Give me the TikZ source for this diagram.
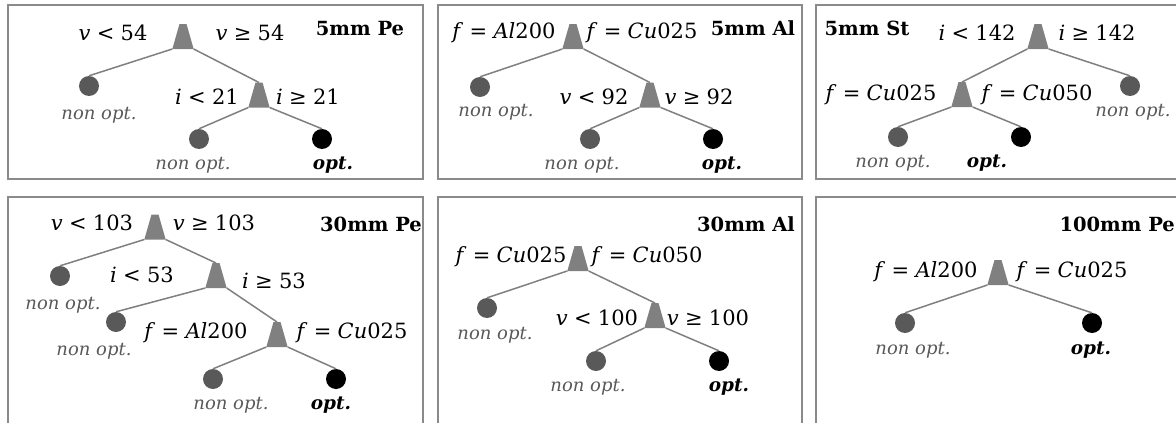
\documentclass[tikz,border=0pt]{standalone}
\usepackage{fontspec}
\setmainfont{DejaVu Serif}
\usetikzlibrary{shapes.geometric}
\definecolor{edgegray}{HTML}{808080}
\definecolor{leafgray}{HTML}{595959}
\definecolor{framegray}{HTML}{8A8A8A}
\newcommand\myrel[1]{\hspace{0.3em}#1\hspace{0.3em}}
\newcommand\vv{\textit{v}}
\newcommand\ii{\textit{i}}
\newcommand\ff{\textit{f}}
\tikzset{
 split/.style={trapezium, trapezium left angle=74, trapezium right angle=74, inner xsep=3.5pt, inner ysep=12.5pt, outer sep=0pt, fill=edgegray, draw=none},
 bad/.style={circle, fill=leafgray, minimum size=20pt, inner sep=0pt},
 good/.style={circle, fill=black, minimum size=20pt, inner sep=0pt},
 cond/.style={font=\fontsize{21}{25}\selectfont, inner sep=0pt},
 nonopt/.style={font=\fontsize{18}{22}\selectfont\itshape, text=leafgray, inner sep=0pt},
 optlbl/.style={font=\fontsize{18.5}{22}\selectfont\bfseries\itshape, inner sep=0pt},
 title/.style={font=\fontsize{19.5}{23}\selectfont\bfseries, inner sep=0pt},
 branch/.style={draw=edgegray, line width=1.5pt},
 frame/.style={draw=framegray, line width=2.5pt},
}
\begin{document}
\begin{tikzpicture}[x=1pt,y=-1pt]
\useasboundingbox (0,0) rectangle (1176,423);
\clip (0,0) rectangle (1176,423);
\fill[white] (0,0) rectangle (1176,423);
% frames
\draw[frame] (8,5) rectangle (423,179);
\draw[frame] (438,5) rectangle (802,179);
\draw[frame] (816,5) rectangle (1195,179);
\draw[frame] (8,197) rectangle (423,440);
\draw[frame] (438,197) rectangle (802,440);
\draw[frame] (816,197) rectangle (1195,440);

% ---------- Panel 1: 5mm Pe
\node[title] (t1) at (360,29) {5mm Pe};
\node[split] (r1) at (183,36.5) {};
\node[split] (c1) at (259,95) {};
\node[bad] (l1a) at (89,86) {};
\node[bad] (l1b) at (199,139) {};
\node[good] (l1c) at (322,139) {};
\draw[branch] (r1.bottom left corner) -- (l1a.north);
\draw[branch] (r1.bottom right corner) -- (c1.north);
\draw[branch] (c1.bottom left corner) -- (l1b.north);
\draw[branch] (c1.bottom right corner) -- (l1c.north);
\node[cond] (k1a) at (113,33) {\vv\myrel{<}54};
\node[cond] (k1b) at (250,33) {\vv\myrel{≥}54};
\node[cond] (k1c) at (207,97) {\ii\myrel{<}21};
\node[cond] (k1d) at (308,97) {\ii\myrel{≥}21};
\node[nonopt] (n1a) at (99,115) {non opt.};
\node[nonopt] (n1b) at (193,165) {non opt.};
\node[optlbl] (o1) at (333,165) {opt.};

% ---------- Panel 2: 5mm Al
\node[title] (t2) at (753,28) {5mm Al};
\node[split] (r2) at (573,36.5) {};
\node[split] (c2) at (650,95) {};
\node[bad] (l2a) at (480,87) {};
\node[bad] (l2b) at (590,139) {};
\node[good] (l2c) at (713,139) {};
\draw[branch] (r2.bottom left corner) -- (l2a.north);
\draw[branch] (r2.bottom right corner) -- (c2.north);
\draw[branch] (c2.bottom left corner) -- (l2b.north);
\draw[branch] (c2.bottom right corner) -- (l2c.north);
\node[cond] (k2a) at (504,33) {\ff\myrel{=}\textit{Al}200};
\node[cond] (k2b) at (642,33) {\ff\myrel{=}\textit{Cu}025};
\node[cond] (k2c) at (594,97) {\vv\myrel{<}92};
\node[cond] (k2d) at (699,97) {\vv\myrel{≥}92};
\node[nonopt] (n2a) at (496,112) {non opt.};
\node[nonopt] (n2b) at (582,165) {non opt.};
\node[optlbl] (o2) at (722,165) {opt.};

% ---------- Panel 3: 5mm St
\node[title] (t3) at (867,28) {5mm St};
\node[split] (r3) at (1038,36.5) {};
\node[split] (c3) at (962,94.5) {};
\node[bad] (l3a) at (1130,86) {};
\node[bad] (l3b) at (898,137) {};
\node[good] (l3c) at (1021,137) {};
\draw[branch] (r3.bottom left corner) -- (c3.north);
\draw[branch] (r3.bottom right corner) -- (l3a.north);
\draw[branch] (c3.bottom left corner) -- (l3b.north);
\draw[branch] (c3.bottom right corner) -- (l3c.north);
\node[cond] (k3a) at (977,33) {\ii\myrel{<}142};
\node[cond] (k3b) at (1097,33) {\ii\myrel{≥}142};
\node[cond] (k3c) at (881,95) {\ff\myrel{=}\textit{Cu}025};
\node[cond] (k3d) at (1037,95) {\ff\myrel{=}\textit{Cu}050};
\node[nonopt] (n3a) at (1133,112) {non opt.};
\node[nonopt] (n3b) at (893,163) {non opt.};
\node[optlbl] (o3) at (987,163) {opt.};

% ---------- Panel 4: 30mm Pe
\node[title] (t4) at (371,224) {30mm Pe};
\node[split] (r4) at (155,227) {};
\node[split] (c4a) at (216,275.5) {};
\node[split] (c4b) at (277,334.5) {};
\node[bad] (l4a) at (60,276) {};
\node[bad] (l4b) at (116,322) {};
\node[bad] (l4c) at (213,379) {};
\node[good] (l4d) at (336,379) {};
\draw[branch] (r4.bottom left corner) -- (l4a.north);
\draw[branch] (r4.bottom right corner) -- (c4a.north);
\draw[branch] (c4a.bottom left corner) -- (l4b.north);
\draw[branch] (c4a.bottom right corner) -- (c4b.north);
\draw[branch] (c4b.bottom left corner) -- (l4c.north);
\draw[branch] (c4b.bottom right corner) -- (l4d.north);
\node[cond] (k4a) at (92,223) {\vv\myrel{<}103};
\node[cond] (k4b) at (214,223) {\vv\myrel{≥}103};
\node[cond] (k4c) at (142,275) {\ii\myrel{<}53};
\node[cond] (k4d) at (274,281) {\ii\myrel{≥}53};
\node[cond] (k4e) at (196,333) {\ff\myrel{=}\textit{Al}200};
\node[cond] (k4f) at (352,333) {\ff\myrel{=}\textit{Cu}025};
\node[nonopt] (n4a) at (63,305) {non opt.};
\node[nonopt] (n4b) at (94,351) {non opt.};
\node[nonopt] (n4c) at (231,405) {non opt.};
\node[optlbl] (o4) at (331,405) {opt.};

% ---------- Panel 5: 30mm Al
\node[title] (t5) at (746,224) {30mm Al};
\node[split] (r5) at (578,258.5) {};
\node[split] (c5) at (655,315.5) {};
\node[bad] (l5a) at (487,308) {};
\node[bad] (l5b) at (596,361) {};
\node[good] (l5c) at (719,361) {};
\draw[branch] (r5.bottom left corner) -- (l5a.north);
\draw[branch] (r5.bottom right corner) -- (c5.north);
\draw[branch] (c5.bottom left corner) -- (l5b.north);
\draw[branch] (c5.bottom right corner) -- (l5c.north);
\node[cond] (k5a) at (511,257) {\ff\myrel{=}\textit{Cu}025};
\node[cond] (k5b) at (647,257) {\ff\myrel{=}\textit{Cu}050};
\node[cond] (k5c) at (597,318) {\vv\myrel{<}100};
\node[cond] (k5d) at (708,318) {\vv\myrel{≥}100};
\node[nonopt] (n5a) at (495,335) {non opt.};
\node[nonopt] (n5b) at (588,387) {non opt.};
\node[optlbl] (o5) at (729,387) {opt.};

% ---------- Panel 6: 100mm Pe
\node[title, anchor=east] (t6) at (1175,224) {100mm Pe};
\node[split] (r6) at (998,272.5) {};
\node[bad] (l6a) at (905,323) {};
\node[good] (l6b) at (1092,323) {};
\draw[branch] (r6.bottom left corner) -- (l6a.north);
\draw[branch] (r6.bottom right corner) -- (l6b.north);
\node[cond] (k6a) at (926,272) {\ff\myrel{=}\textit{Al}200};
\node[cond] (k6b) at (1072,272) {\ff\myrel{=}\textit{Cu}025};
\node[nonopt] (n6a) at (913,350) {non opt.};
\node[optlbl] (o6) at (1091,350) {opt.};
\end{tikzpicture}
\end{document}
